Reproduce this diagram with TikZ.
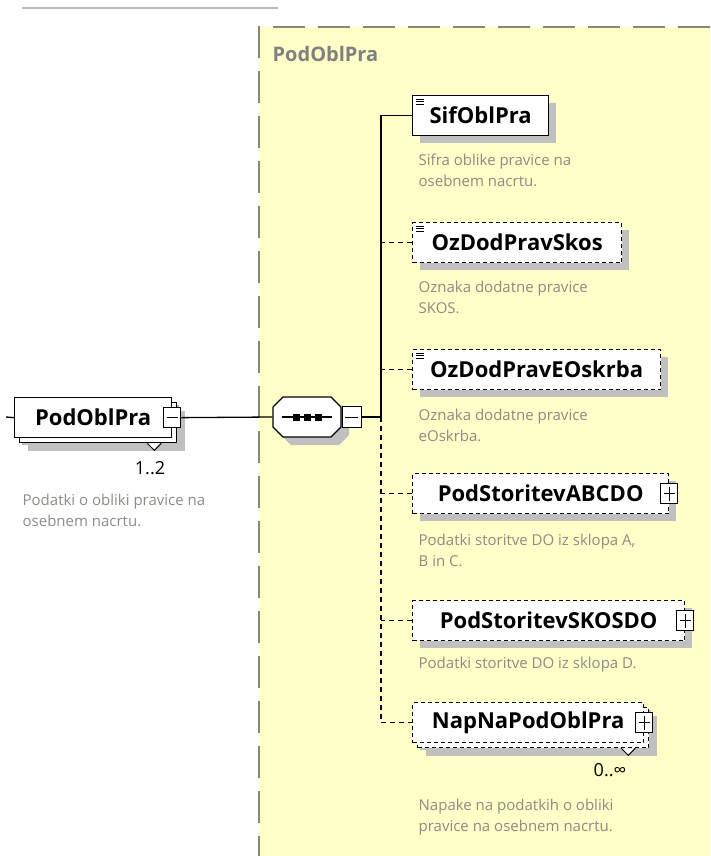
\documentclass[tikz,border=0pt]{standalone}
\usepackage{fontspec}
\setmainfont{Open Sans}
\usetikzlibrary{shadows,calc}
\definecolor{yellowbg}{RGB}{255,255,200}
\definecolor{shadowgray}{RGB}{192,192,192}
\definecolor{descgray}{RGB}{140,140,135}
\definecolor{bordergray}{RGB}{135,135,120}
\definecolor{rulegray}{RGB}{185,185,185}
\newcommand{\elemfont}{\fontsize{22}{26}\selectfont\bfseries}
\newcommand{\descfont}{\fontsize{15}{21}\selectfont}

\begin{document}
\begin{tikzpicture}[x=1pt,y=-1pt,line width=1.3pt,
    elembox/.style={draw,fill=white,anchor=north west,minimum height=40pt,inner sep=0pt,font=\elemfont,
      drop shadow={shadow xshift=7pt,shadow yshift=-7pt,fill=shadowgray,opacity=1}},
    optbox/.style={elembox,dash pattern=on 4pt off 3pt},
    multibox/.style={drop shadow={shadow xshift=13pt,shadow yshift=-13pt,fill=shadowgray,opacity=1},
      copy shadow={shadow xshift=5pt,shadow yshift=-5pt}},
    minusbox/.style={draw,fill=white,line width=1pt,minimum width=17pt,minimum height=20pt,inner sep=0pt,
      path picture={\draw([xshift=3pt]path picture bounding box.west)--([xshift=-3pt]path picture bounding box.east);}},
    plusbox/.style={draw,fill=white,line width=1pt,minimum width=17pt,minimum height=20pt,inner sep=0pt,
      path picture={\draw([xshift=3pt]path picture bounding box.west)--([xshift=-3pt]path picture bounding box.east);
        \draw([yshift=-3pt]path picture bounding box.north)--([yshift=3pt]path picture bounding box.south);}},
    desc/.style={anchor=north west,align=left,inner sep=0pt,font=\descfont,text=descgray},
    mult/.style={inner sep=0pt,font=\fontsize{18}{20}\selectfont},
    branch/.style={dash pattern=on 5pt off 4pt}]
  \useasboundingbox (0,0) rectangle (710,856);
  % frame of the group
  \fill[yellowbg] (259,27) rectangle (710,856);
  \draw[bordergray,line width=2pt,dash pattern=on 32pt off 13pt] (710,27) -- (259,27) -- (259,856);
  \draw[rulegray,line width=2pt] (22,8) -- (278,8);
  \node[anchor=west,inner sep=0pt,font=\fontsize{20}{24}\selectfont\bfseries,text=black!50] (grouptitle) at (272,54) {PodOblPra};
  % the parent element
  \node[elembox,multibox,minimum width=157pt] (pob) at (14,397) {PodOblPra};
  \node[minusbox] (pobminus) at (pob.east) {};
  \draw[line width=1pt,fill=white] ($(pob.south east)+(-25,5)$) -- ++(7,7) -- ++(7,-7);
  \node[mult] (pobmult) at (150,468) {1..2};
  \node[desc] (pobdesc) at (22,493) {Podatki o obliki pravice na\\osebnem nacrtu.};
  \coordinate (stub) at (6,417);
  \draw (stub) -- (pob.west);
  % sequence
  \node[minimum width=68pt,minimum height=40pt,inner sep=0pt] (seq) at (307,417) {};
  \fill[shadowgray,shift={($(seq.center)+(8,8)$)}] (-24,-20) -- (24,-20) -- (34,-10) -- (34,10)
     -- (24,20) -- (-24,20) -- (-34,10) -- (-34,-10) -- cycle;
  \filldraw[fill=white,shift={(seq.center)}] (-24,-20) -- (24,-20) -- (34,-10) -- (34,10)
     -- (24,20) -- (-24,20) -- (-34,10) -- (-34,-10) -- cycle;
  \draw ([xshift=10pt]seq.west) -- ([xshift=-10pt]seq.east);
  \foreach \d in {-11,0,11}
    \fill ($(seq.center)+(\d,0)$) +(-3.5,-3.5) rectangle +(3.5,3.5);
  \node[minusbox,anchor=west,minimum width=19pt,minimum height=21pt] (seqminus) at (seq.east) {};
  \draw (pobminus.east) -- (seq.west);
  % children
  \node[elembox,minimum width=136pt] (sif) at (412,95) {SifOblPra};
  \node[optbox,minimum width=209pt] (skos) at (412,222) {OzDodPravSkos};
  \node[optbox,minimum width=248pt] (eosk) at (412,349) {OzDodPravEOskrba};
  \node[optbox,minimum width=256pt] (abc) at (412,473) {PodStoritevABCDO};
  \node[optbox,minimum width=272pt] (skd) at (412,600) {PodStoritevSKOSDO};
  \node[optbox,multibox,minimum width=231pt] (nap) at (412,702) {NapNaPodOblPra};
  \foreach \n in {sif,skos,eosk}
    \foreach \k in {4,6.5,9}
      \draw[line width=.8pt] ($(\n.north west)+(4,\k)$) -- +(8,0);
  \node[plusbox] (abcplus) at (abc.east) {};
  \node[plusbox] (skdplus) at (skd.east) {};
  \node[plusbox] (napplus) at (nap.east) {};
  \draw[line width=1pt,fill=white] ($(nap.south east)+(-23,5)$) -- ++(7,7) -- ++(7,-7);
  \node[mult] (napmult) at (610,770) {0..∞};
  \node[desc] (sifdesc) at (418,153) {Sifra oblike pravice na\\osebnem nacrtu.};
  \node[desc] (skosdesc) at (418,280) {Oznaka dodatne pravice\\SKOS.};
  \node[desc] (eoskdesc) at (418,408) {Oznaka dodatne pravice\\eOskrba.};
  \node[desc] (abcdesc) at (418,533) {Podatki storitve DO iz sklopa A,\\B in C.};
  \node[desc] (skddesc) at (418,656) {Podatki storitve DO iz sklopa D.};
  \node[desc] (napdesc) at (418,798) {Napake na podatkih o obliki\\pravice na osebnem nacrtu.};
  % connectors
  \coordinate (spine) at (381,417);
  \draw (seqminus.east) -- (spine) |- (sif.west);
  \draw[branch] (spine) |- (nap.west);
  \foreach \n in {skos,eosk,abc,skd}
    \draw[branch] (\n.west) -- (\n.west -| spine);
\end{tikzpicture}
\end{document}
